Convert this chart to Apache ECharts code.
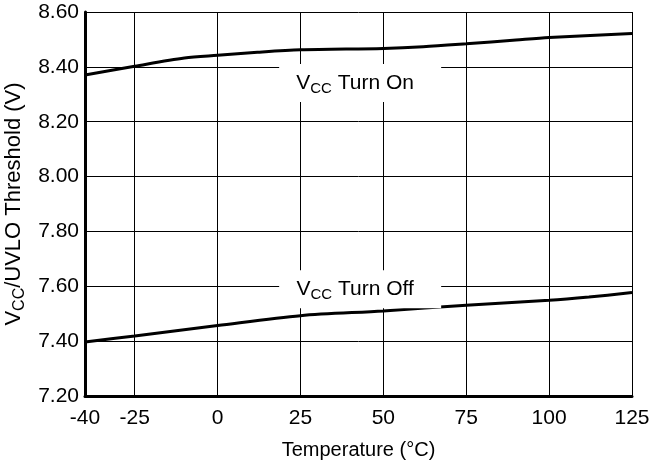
<!DOCTYPE html>
<html>
<head>
<meta charset="utf-8">
<script src="https://cdn.jsdelivr.net/npm/echarts@6/dist/echarts.min.js"></script>
<style>
html,body{margin:0;padding:0;background:#fff;}
#chart{width:652px;height:468px;}
</style>
</head>
<body>
<div id="chart"></div>
<script>
// Data
const xTicks = [-40, -25, 0, 25, 50, 75, 100, 125];
const turnOn = [[-40, 8.370], [-25, 8.402], [-10, 8.432], [0, 8.442], [12, 8.453], [25, 8.462], [50, 8.467], [62, 8.473], [75, 8.484], [90, 8.498], [100, 8.507], [125, 8.522]];
const turnOff = [[-40, 7.397], [-25, 7.419], [0, 7.457], [25, 7.493], [50, 7.510], [75, 7.531], [100, 7.549], [112, 7.561], [125, 7.577]];
const labelOn = { text: '{a|V}{b|CC}{a| Turn On}', coord: [43, 8.341] };
const labelOff = { text: '{a|V}{b|CC}{a| Turn Off}', coord: [43, 7.589] };

const FONT = '"Liberation Sans", Arial, sans-serif';
const rich = {
  a: { fontSize: 21, lineHeight: 26, fontFamily: FONT, color: '#000', verticalAlign: 'middle' },
  b: { fontSize: 15, lineHeight: 15, fontFamily: FONT, color: '#000', verticalAlign: 'bottom' }
};
const richName = {
  a: { fontSize: 22, lineHeight: 27, fontFamily: FONT, color: '#000', verticalAlign: 'middle' },
  b: { fontSize: 16, lineHeight: 16, fontFamily: FONT, color: '#000', verticalAlign: 'bottom' }
};

const chart = echarts.init(document.getElementById('chart'), null, { renderer: 'canvas' });
chart.setOption({
  animation: false,
  backgroundColor: '#fff',
  grid: { left: 85, right: 20, top: 12, bottom: 72, containLabel: false, outerBoundsMode: 'none' },
  xAxis: {
    type: 'value',
    min: -40, max: 125,
    name: 'Temperature (°C)',
    nameLocation: 'middle',
    nameGap: 44,
    nameTextStyle: { fontSize: 20, fontFamily: FONT, color: '#000' },
    axisLine: { show: true, onZero: false, lineStyle: { color: '#000', width: 3 } },
    axisTick: { show: false, customValues: xTicks },
    axisLabel: { customValues: xTicks, fontSize: 21, fontFamily: FONT, color: '#000', margin: 12 },
    splitLine: { show: false }
  },
  yAxis: {
    type: 'value',
    min: 7.2, max: 8.6, interval: 0.2,
    name: '{a|V}{b|CC}{a|/UVLO Threshold (V)}',
    nameLocation: 'middle',
    nameGap: 51,
    nameRotate: 90,
    nameTextStyle: { rich: richName },
    axisLine: { show: true, onZero: false, lineStyle: { color: '#000', width: 3 } },
    axisTick: { show: false },
    axisLabel: { fontSize: 21, fontFamily: FONT, color: '#000', margin: 6, formatter: v => v.toFixed(2) },
    splitLine: { show: true, lineStyle: { color: '#000', width: 1 } }
  },
  series: [
    {
      type: 'line', z: 1, silent: true, data: [],
      markLine: {
        silent: true, symbol: 'none', animation: false,
        label: { show: false },
        lineStyle: { color: '#000', width: 1, type: 'solid' },
        emphasis: { disabled: true },
        data: xTicks.slice(1).map(v => ({ xAxis: v }))
      }
    },
    {
      type: 'line', z: 2, silent: true, data: [],
      markPoint: {
        silent: true, symbol: 'rect', symbolSize: [162, 38],
        itemStyle: { color: '#fff' },
        label: { show: true, position: 'inside', offset: [-5, 0], rich: rich, formatter: p => p.data.text },
        data: [
          { coord: labelOn.coord, text: labelOn.text },
          { coord: labelOff.coord, text: labelOff.text }
        ]
      }
    },
    {
      name: 'VCC Turn On', type: 'line', z: 4, data: turnOn, smooth: 0.3,
      symbol: 'none', lineStyle: { color: '#000', width: 3 }, silent: true
    },
    {
      name: 'VCC Turn Off', type: 'line', z: 4, data: turnOff, smooth: 0.3,
      symbol: 'none', lineStyle: { color: '#000', width: 3 }, silent: true
    }
  ]
});
</script>
</body>
</html>
